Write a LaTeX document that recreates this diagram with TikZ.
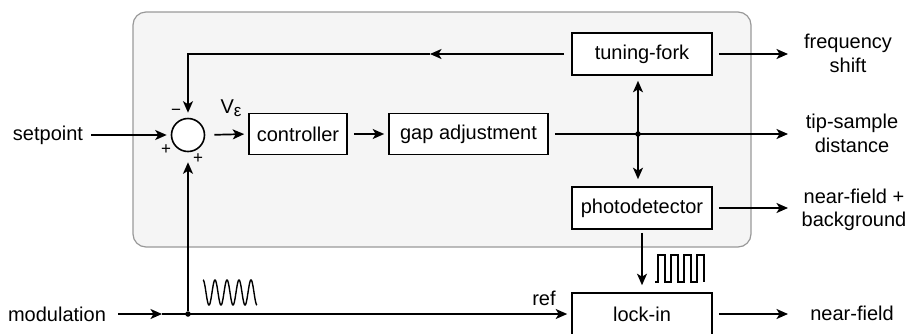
\documentclass[tikz,border=0pt]{standalone}
\usepackage{fontspec}
\setmainfont{Liberation Sans}
\usetikzlibrary{arrows.meta}
\begin{document}
\begin{tikzpicture}[x=1pt,y=-1pt,
  font=\fontsize{20}{23.5}\selectfont,
  lw/.style={line width=1.7pt},
  tip/.tip={Stealth[length=11.5pt,width=10pt,inset=3pt]},
  arr/.style={lw,-tip},
  darr/.style={lw,tip-tip},
  blk/.style={draw,line width=1.6pt,fill=white,minimum height=42pt,inner sep=0pt},
  lbl/.style={inner sep=0pt,align=center},
  sgn/.style={inner sep=0pt,font=\fontsize{17}{17}\selectfont},
  jdot/.style={circle,fill,inner sep=0pt,minimum size=5.5pt}]
\useasboundingbox (0,0) rectangle (910,333);
% panel
\draw[fill=black!4,draw=black!40,line width=1.2pt,rounded corners=13pt] (133,12) rectangle (751,247);
% blocks
\node[circle,draw,line width=1.6pt,fill=white,minimum size=33pt,inner sep=0pt] (sum) at (188,135) {};
\node[blk,minimum width=98pt,minimum height=41pt] (ctrl) at (298,134) {controller};
\node[blk,minimum width=159pt,minimum height=41pt] (gap) at (468.5,134) {gap adjustment};
\node[blk,minimum width=140pt] (tf) at (642,54) {tuning-fork};
\node[blk,minimum width=140pt] (pd) at (642,208) {photodetector};
\node[blk,minimum width=140pt] (li) at (642,314) {lock-in};
% labels
\node[lbl] (sp) at (48,135) {setpoint};
\node[lbl] (mod) at (57,314) {modulation};
\node[lbl] (fs) at (848,53.5) {frequency\\shift};
\node[lbl] (ts) at (852,133.5) {tip-sample\\distance};
\node[lbl] (nb) at (854,210) {near-field +\\background};
\node[lbl] (nf) at (852,313) {near-field};
\node[lbl] (ref) at (544,298) {ref};
\node[lbl] (ve) at (231,108) {V\raisebox{-3pt}{\fontsize{17}{17}\selectfont ε}};
\node[sgn] (m1) at (176,112) {−};
\node[sgn] (p1) at (166,150) {+};
\node[sgn] (p2) at (198,159) {+};
% helper coordinates
\coordinate (ox) at (788,0);
\coordinate (fbm) at (430,54);
\coordinate (mm) at (162,314);
\node[jdot] (jd) at (638,134) {};
\node[jdot] (md) at (188,314) {};
% connectors
\draw[arr,shorten <=8pt,shorten >=4pt] (sp.east) -- (sum.west);
\draw[arr,shorten <=9pt,shorten >=4pt] (sum.east) -- (ctrl.west);
\draw[arr,shorten <=6pt,shorten >=4pt] (ctrl.east) -- (gap.west);
\draw[arr,shorten <=6pt] (gap.east) -- (gap.east -| ox);
\draw[arr,shorten <=6pt] (tf.east) -- (tf.east -| ox);
\draw[arr,shorten <=6pt] (pd.east) -- (pd.east -| ox);
\draw[arr,shorten <=6pt] (li.east) -- (li.east -| ox);
\draw[arr,shorten <=7pt] (tf.west) -- (fbm);
\draw[arr,shorten >=5pt] (fbm) -- (sum |- fbm) -- (sum.north);
\draw[darr,shorten <=5pt,shorten >=7pt] (jd |- tf.south) -- (jd |- pd.north);
\draw[arr,shorten <=3pt,shorten >=7pt] (pd.south) -- (li.north);
\draw[arr,shorten <=12pt] (mod.east) -- (mm);
\draw[arr,shorten >=4pt] (mm) -- (li.west);
\draw[arr,shorten >=10pt] (md) -- (sum.south);
% signals
\draw[line width=1.4pt] plot[domain=0:4.5,samples=200,smooth] ({203+\x*12},{280+12.5*(1-cos(\x*360))});
\draw[line width=1.4pt] (655,282) -- (658,282) -- (658,255) -- (665,255) -- (665,282) -- (671,282) -- (671,255) -- (678,255) -- (678,282) -- (684,282) -- (684,255) -- (691,255) -- (691,282) -- (697,282) -- (697,255) -- (704,255) -- (704,282);
\end{tikzpicture}
\end{document}
